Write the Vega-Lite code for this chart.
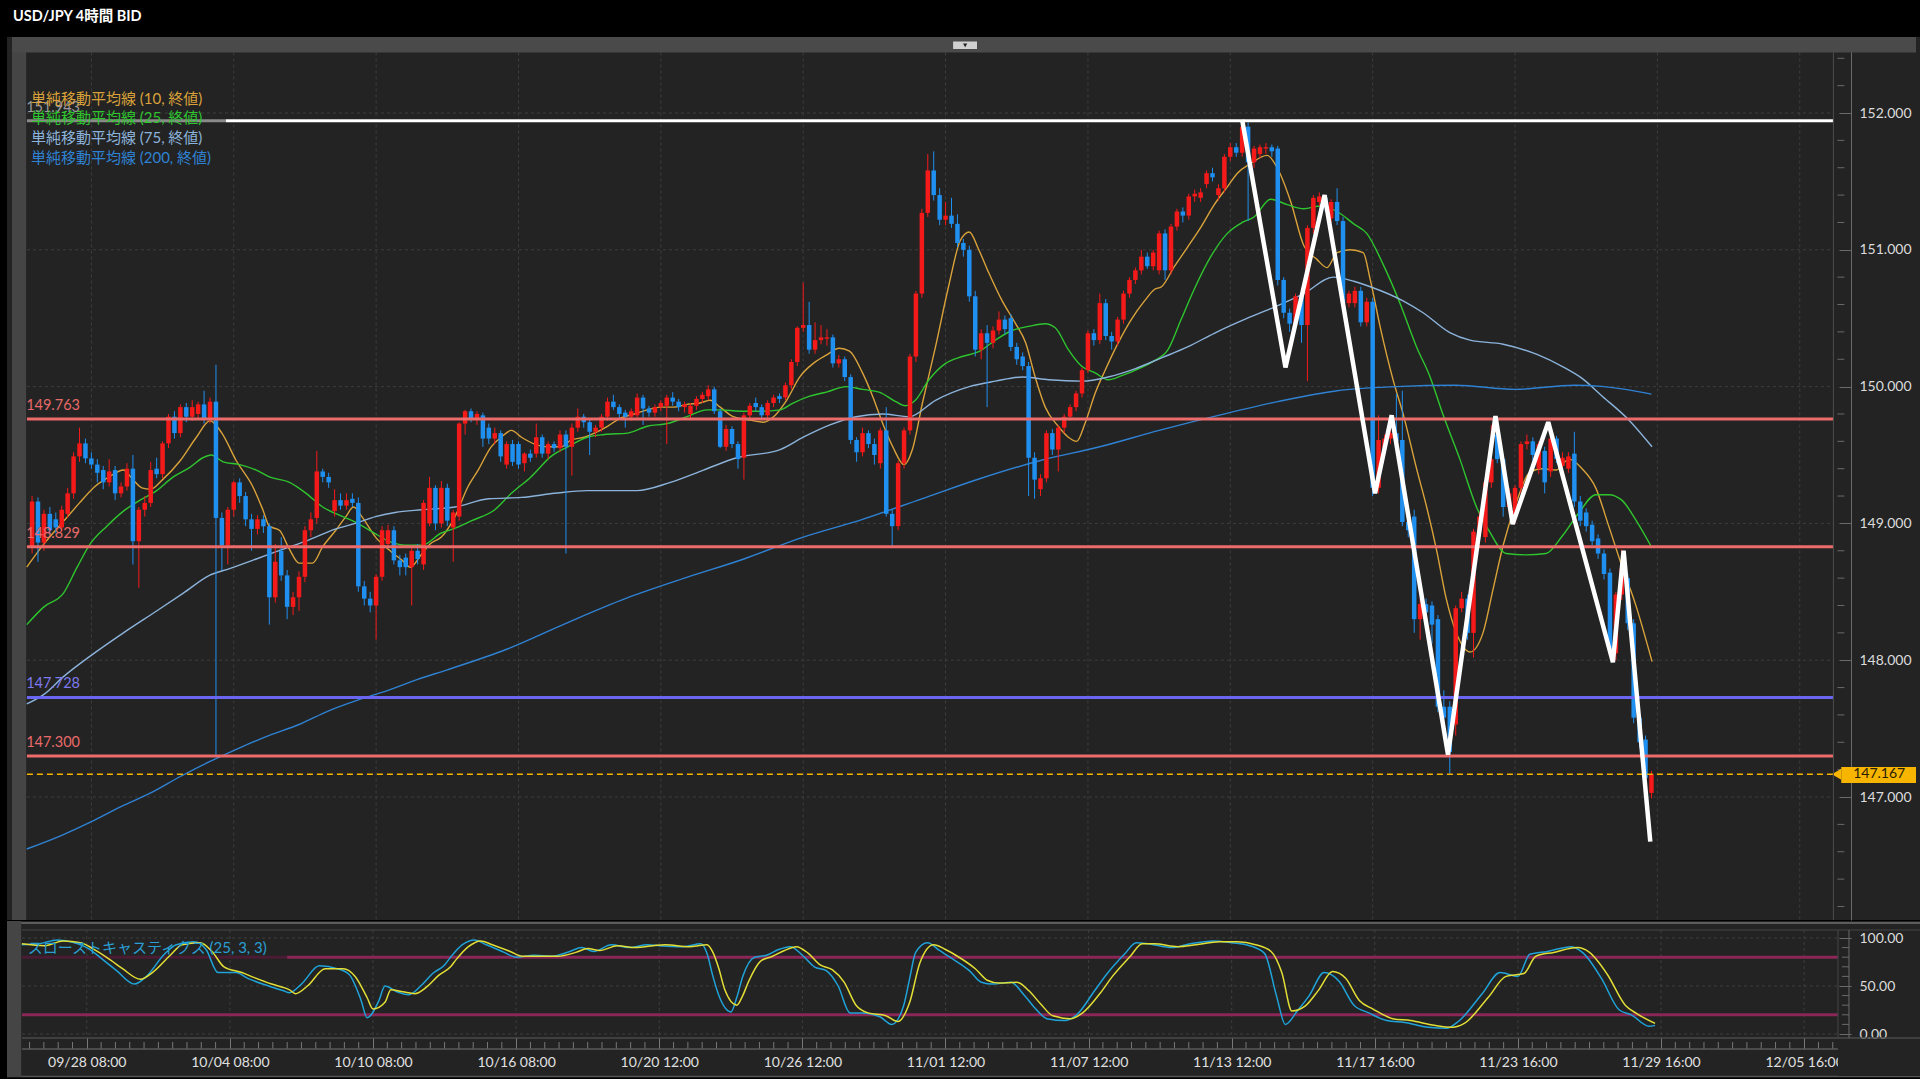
{
"$schema":"https://vega.github.io/schema/vega-lite/v6.json",
"background":"#000000",
"autosize":{"type":"pad"},
"padding":{"left":6,"top":9,"right":0,"bottom":1},
"title":{"text":"USD/JPY 4時間 BID","anchor":"start","frame":"bounds","offset":12.5,"dx":7,"color":"#ffffff","font":"Lato, Noto Sans CJK JP","fontSize":14.5,"fontWeight":"bold"},
"spacing":0,
"config":{"view":{"stroke":null},"text":{"font":"Lato, Noto Sans CJK JP"}},
"datasets":{
"one":[{"k":1}],
"xg":[{"i":0},{"i":24},{"i":48},{"i":72},{"i":96},{"i":120},{"i":144},{"i":168},{"i":192},{"i":216},{"i":240},{"i":264},{"i":288}],
"yg":[{"v":147},{"v":148},{"v":149},{"v":150},{"v":151},{"v":152}],
"ymin":[{"v":146.2},{"v":146.4},{"v":146.6},{"v":146.8},{"v":147.2},{"v":147.4},{"v":147.6},{"v":147.8},{"v":148.2},{"v":148.4},{"v":148.6},{"v":148.8},{"v":149.2},{"v":149.4},{"v":149.6},{"v":149.8},{"v":150.2},{"v":150.4},{"v":150.6},{"v":150.8},{"v":151.2},{"v":151.4},{"v":151.6},{"v":151.8},{"v":152.2},{"v":152.4}],
"sg":[{"v":0},{"v":50},{"v":100}],
"smin":[{"v":10},{"v":20},{"v":30},{"v":40},{"v":60},{"v":70},{"v":80},{"v":90}],
"xmin":[{"i":-9.6},{"i":-7.2},{"i":-4.8},{"i":-2.4},{"i":2.4},{"i":4.8},{"i":7.2},{"i":9.6},{"i":12},{"i":14.4},{"i":16.8},{"i":19.2},{"i":21.6},{"i":26.4},{"i":28.8},{"i":31.2},{"i":33.6},{"i":36},{"i":38.4},{"i":40.8},{"i":43.2},{"i":45.6},{"i":50.4},{"i":52.8},{"i":55.2},{"i":57.6},{"i":60},{"i":62.4},{"i":64.8},{"i":67.2},{"i":69.6},{"i":74.4},{"i":76.8},{"i":79.2},{"i":81.6},{"i":84},{"i":86.4},{"i":88.8},{"i":91.2},{"i":93.6},{"i":98.4},{"i":100.8},{"i":103.2},{"i":105.6},{"i":108},{"i":110.4},{"i":112.8},{"i":115.2},{"i":117.6},{"i":122.4},{"i":124.8},{"i":127.2},{"i":129.6},{"i":132},{"i":134.4},{"i":136.8},{"i":139.2},{"i":141.6},{"i":146.4},{"i":148.8},{"i":151.2},{"i":153.6},{"i":156},{"i":158.4},{"i":160.8},{"i":163.2},{"i":165.6},{"i":170.4},{"i":172.8},{"i":175.2},{"i":177.6},{"i":180},{"i":182.4},{"i":184.8},{"i":187.2},{"i":189.6},{"i":194.4},{"i":196.8},{"i":199.2},{"i":201.6},{"i":204},{"i":206.4},{"i":208.8},{"i":211.2},{"i":213.6},{"i":218.4},{"i":220.8},{"i":223.2},{"i":225.6},{"i":228},{"i":230.4},{"i":232.8},{"i":235.2},{"i":237.6},{"i":242.4},{"i":244.8},{"i":247.2},{"i":249.6},{"i":252},{"i":254.4},{"i":256.8},{"i":259.2},{"i":261.6},{"i":266.4},{"i":268.8},{"i":271.2},{"i":273.6},{"i":276},{"i":278.4},{"i":280.8},{"i":283.2},{"i":285.6},{"i":290.4},{"i":292.8}],
"levels":[{"v":151.944,"label":"151.943"},{"v":149.763,"label":"149.763"},{"v":148.829,"label":"148.829"},{"v":147.728,"label":"147.728"},{"v":147.3,"label":"147.300"}],
"last":[{"p":147.167,"label":"147.167"}],
"legend":[{"s":"10","label":"単純移動平均線 (10, 終値)"},{"s":"25","label":"単純移動平均線 (25, 終値)"},{"s":"75","label":"単純移動平均線 (75, 終値)"},{"s":"200","label":"単純移動平均線 (200, 終値)"}],
"zig":[{"i":194.0,"p":151.95},{"i":201.3,"p":150.14},{"i":207.9,"p":151.40},{"i":216.4,"p":149.22},{"i":219.2,"p":149.79},{"i":228.7,"p":147.31},{"i":236.7,"p":149.785},{"i":239.6,"p":148.995},{"i":245.6,"p":149.74},{"i":256.5,"p":147.985},{"i":258.3,"p":148.80},{"i":262.8,"p":146.674}],
"candles":[
{"i":-10,"o":148.83,"h":149.2,"l":148.78,"c":149.16},{"i":-9,"o":149.16,"h":149.19,"l":148.72,"c":148.86},{"i":-8,"o":148.86,"h":149.1,"l":148.8,"c":149.07},{"i":-7,"o":149.07,"h":149.12,"l":148.92,"c":148.95},{"i":-6,"o":149.03,"h":149.08,"l":148.93,"c":148.97},{"i":-5,"o":148.97,"h":149.13,"l":148.94,"c":149.1},{"i":-4,"o":149.07,"h":149.26,"l":149.04,"c":149.22},{"i":-3,"o":149.22,"h":149.52,"l":149.18,"c":149.49},{"i":-2,"o":149.49,"h":149.7,"l":149.45,"c":149.585},{"i":-1,"o":149.585,"h":149.62,"l":149.44,"c":149.475},
{"i":0,"o":149.475,"h":149.52,"l":149.4,"c":149.43},{"i":1,"o":149.43,"h":149.47,"l":149.3,"c":149.37},{"i":2,"o":149.39,"h":149.42,"l":149.25,"c":149.3},{"i":3,"o":149.3,"h":149.47,"l":149.27,"c":149.38},{"i":4,"o":149.39,"h":149.42,"l":149.17,"c":149.22},{"i":5,"o":149.22,"h":149.3,"l":149.19,"c":149.27},{"i":6,"o":149.27,"h":149.44,"l":149.24,"c":149.4},{"i":7,"o":149.4,"h":149.5,"l":148.7,"c":148.87},{"i":8,"o":148.87,"h":149.12,"l":148.53,"c":149.1},{"i":9,"o":149.1,"h":149.2,"l":149.05,"c":149.15},
{"i":10,"o":149.15,"h":149.45,"l":149.12,"c":149.39},{"i":11,"o":149.4,"h":149.48,"l":149.33,"c":149.36},{"i":12,"o":149.36,"h":149.6,"l":149.33,"c":149.585},{"i":13,"o":149.585,"h":149.8,"l":149.55,"c":149.78},{"i":14,"o":149.78,"h":149.82,"l":149.62,"c":149.66},{"i":15,"o":149.66,"h":149.87,"l":149.63,"c":149.85},{"i":16,"o":149.85,"h":149.88,"l":149.74,"c":149.78},{"i":17,"o":149.78,"h":149.9,"l":149.75,"c":149.85},{"i":18,"o":149.8,"h":149.89,"l":149.77,"c":149.87},{"i":19,"o":149.87,"h":149.97,"l":149.73,"c":149.76},
{"i":20,"o":149.76,"h":149.92,"l":149.73,"c":149.89},{"i":21,"o":149.89,"h":150.16,"l":147.3,"c":149.04},{"i":22,"o":149.04,"h":149.08,"l":148.66,"c":148.84},{"i":23,"o":148.84,"h":149.12,"l":148.7,"c":149.1},{"i":24,"o":149.1,"h":149.31,"l":149.05,"c":149.3},{"i":25,"o":149.3,"h":149.33,"l":149.15,"c":149.2},{"i":26,"o":149.2,"h":149.23,"l":148.98,"c":149.03},{"i":27,"o":149.03,"h":149.07,"l":148.8,"c":148.96},{"i":28,"o":148.96,"h":149.06,"l":148.92,"c":149.03},{"i":29,"o":149.03,"h":149.06,"l":148.93,"c":148.98},
{"i":30,"o":148.98,"h":149.0,"l":148.26,"c":148.46},{"i":31,"o":148.46,"h":148.85,"l":148.42,"c":148.72},{"i":32,"o":148.8,"h":148.9,"l":148.58,"c":148.62},{"i":33,"o":148.62,"h":148.66,"l":148.3,"c":148.39},{"i":34,"o":148.39,"h":148.5,"l":148.33,"c":148.46},{"i":35,"o":148.46,"h":148.65,"l":148.36,"c":148.61},{"i":36,"o":148.61,"h":148.98,"l":148.57,"c":148.95},{"i":37,"o":148.95,"h":149.08,"l":148.9,"c":149.03},{"i":38,"o":149.04,"h":149.53,"l":149.0,"c":149.38},{"i":39,"o":149.38,"h":149.4,"l":149.3,"c":149.34},
{"i":40,"o":149.34,"h":149.37,"l":149.26,"c":149.3},{"i":41,"o":149.09,"h":149.25,"l":149.05,"c":149.17},{"i":42,"o":149.17,"h":149.22,"l":149.1,"c":149.13},{"i":43,"o":149.13,"h":149.22,"l":149.1,"c":149.17},{"i":44,"o":149.18,"h":149.22,"l":149.12,"c":149.15},{"i":45,"o":149.15,"h":149.19,"l":148.5,"c":148.54},{"i":46,"o":148.54,"h":148.58,"l":148.4,"c":148.45},{"i":47,"o":148.45,"h":148.5,"l":148.35,"c":148.4},{"i":48,"o":148.4,"h":148.63,"l":148.15,"c":148.61},{"i":49,"o":148.61,"h":148.98,"l":148.58,"c":148.95},
{"i":50,"o":148.85,"h":148.99,"l":148.82,"c":148.95},{"i":51,"o":148.95,"h":148.98,"l":148.7,"c":148.73},{"i":52,"o":148.73,"h":148.77,"l":148.62,"c":148.68},{"i":53,"o":148.75,"h":148.78,"l":148.62,"c":148.68},{"i":54,"o":148.68,"h":148.84,"l":148.4,"c":148.8},{"i":55,"o":148.8,"h":148.85,"l":148.7,"c":148.74},{"i":56,"o":148.7,"h":149.17,"l":148.66,"c":149.15},{"i":57,"o":149.0,"h":149.34,"l":148.98,"c":149.26},{"i":58,"o":149.26,"h":149.28,"l":148.95,"c":149.0},{"i":59,"o":149.0,"h":149.31,"l":148.97,"c":149.26},
{"i":60,"o":149.26,"h":149.29,"l":148.98,"c":149.02},{"i":61,"o":148.97,"h":149.1,"l":148.72,"c":149.08},{"i":62,"o":149.05,"h":149.74,"l":149.02,"c":149.73},{"i":63,"o":149.73,"h":149.83,"l":149.65,"c":149.82},{"i":64,"o":149.82,"h":149.84,"l":149.74,"c":149.77},{"i":65,"o":149.77,"h":149.82,"l":149.72,"c":149.8},{"i":66,"o":149.79,"h":149.81,"l":149.56,"c":149.62},{"i":67,"o":149.7,"h":149.73,"l":149.58,"c":149.62},{"i":68,"o":149.62,"h":149.7,"l":149.58,"c":149.66},{"i":69,"o":149.66,"h":149.68,"l":149.45,"c":149.49},
{"i":70,"o":149.43,"h":149.6,"l":149.4,"c":149.58},{"i":71,"o":149.58,"h":149.61,"l":149.42,"c":149.45},{"i":72,"o":149.58,"h":149.6,"l":149.4,"c":149.43},{"i":73,"o":149.44,"h":149.52,"l":149.38,"c":149.51},{"i":74,"o":149.51,"h":149.54,"l":149.45,"c":149.48},{"i":75,"o":149.51,"h":149.73,"l":149.48,"c":149.63},{"i":76,"o":149.63,"h":149.65,"l":149.48,"c":149.51},{"i":77,"o":149.51,"h":149.6,"l":149.47,"c":149.58},{"i":78,"o":149.58,"h":149.6,"l":149.52,"c":149.55},{"i":79,"o":149.55,"h":149.68,"l":149.52,"c":149.65},
{"i":80,"o":149.65,"h":149.68,"l":148.78,"c":149.56},{"i":81,"o":149.56,"h":149.73,"l":149.35,"c":149.7},{"i":82,"o":149.7,"h":149.84,"l":149.67,"c":149.78},{"i":83,"o":149.78,"h":149.8,"l":149.7,"c":149.74},{"i":84,"o":149.74,"h":149.76,"l":149.5,"c":149.67},{"i":85,"o":149.67,"h":149.72,"l":149.63,"c":149.7},{"i":86,"o":149.7,"h":149.8,"l":149.67,"c":149.78},{"i":87,"o":149.78,"h":149.92,"l":149.75,"c":149.89},{"i":88,"o":149.89,"h":149.94,"l":149.83,"c":149.85},{"i":89,"o":149.85,"h":149.87,"l":149.77,"c":149.8},
{"i":90,"o":149.81,"h":149.83,"l":149.7,"c":149.78},{"i":91,"o":149.78,"h":149.84,"l":149.75,"c":149.82},{"i":92,"o":149.79,"h":149.95,"l":149.76,"c":149.92},{"i":93,"o":149.92,"h":149.94,"l":149.72,"c":149.84},{"i":94,"o":149.84,"h":149.86,"l":149.78,"c":149.81},{"i":95,"o":149.81,"h":149.87,"l":149.78,"c":149.85},{"i":96,"o":149.85,"h":149.9,"l":149.82,"c":149.88},{"i":97,"o":149.86,"h":149.94,"l":149.58,"c":149.92},{"i":98,"o":149.92,"h":149.96,"l":149.86,"c":149.89},{"i":99,"o":149.89,"h":149.91,"l":149.82,"c":149.85},
{"i":100,"o":149.85,"h":149.89,"l":149.81,"c":149.87},{"i":101,"o":149.8,"h":149.88,"l":149.77,"c":149.86},{"i":102,"o":149.86,"h":149.93,"l":149.83,"c":149.91},{"i":103,"o":149.91,"h":149.96,"l":149.88,"c":149.94},{"i":104,"o":149.93,"h":150.01,"l":149.9,"c":149.98},{"i":105,"o":149.98,"h":150.0,"l":149.8,"c":149.82},{"i":106,"o":149.82,"h":149.84,"l":149.55,"c":149.56},{"i":107,"o":149.56,"h":149.72,"l":149.53,"c":149.69},{"i":108,"o":149.69,"h":149.71,"l":149.55,"c":149.58},{"i":109,"o":149.58,"h":149.6,"l":149.4,"c":149.47},
{"i":110,"o":149.48,"h":149.81,"l":149.32,"c":149.79},{"i":111,"o":149.79,"h":149.88,"l":149.76,"c":149.86},{"i":112,"o":149.88,"h":149.92,"l":149.82,"c":149.85},{"i":113,"o":149.85,"h":149.87,"l":149.76,"c":149.79},{"i":114,"o":149.79,"h":149.9,"l":149.77,"c":149.88},{"i":115,"o":149.88,"h":149.94,"l":149.85,"c":149.92},{"i":116,"o":149.93,"h":149.95,"l":149.88,"c":149.91},{"i":117,"o":149.92,"h":150.03,"l":149.9,"c":150.01},{"i":118,"o":150.01,"h":150.2,"l":149.98,"c":150.18},{"i":119,"o":150.18,"h":150.44,"l":150.15,"c":150.43},
{"i":120,"o":150.43,"h":150.76,"l":150.4,"c":150.45},{"i":121,"o":150.45,"h":150.62,"l":150.24,"c":150.27},{"i":122,"o":150.27,"h":150.47,"l":150.24,"c":150.34},{"i":123,"o":150.34,"h":150.45,"l":150.31,"c":150.36},{"i":124,"o":150.35,"h":150.42,"l":150.3,"c":150.36},{"i":125,"o":150.36,"h":150.38,"l":150.14,"c":150.17},{"i":126,"o":150.17,"h":150.23,"l":150.14,"c":150.2},{"i":127,"o":150.2,"h":150.22,"l":150.04,"c":150.07},{"i":128,"o":150.07,"h":150.09,"l":149.58,"c":149.61},{"i":129,"o":149.61,"h":149.63,"l":149.45,"c":149.52},
{"i":130,"o":149.52,"h":149.7,"l":149.49,"c":149.66},{"i":131,"o":149.66,"h":149.68,"l":149.55,"c":149.58},{"i":132,"o":149.58,"h":149.62,"l":149.43,"c":149.5},{"i":133,"o":149.44,"h":149.7,"l":149.4,"c":149.68},{"i":134,"o":149.68,"h":149.85,"l":149.05,"c":149.07},{"i":135,"o":149.07,"h":149.1,"l":148.83,"c":148.98},{"i":136,"o":148.98,"h":149.46,"l":148.95,"c":149.44},{"i":137,"o":149.44,"h":149.7,"l":149.4,"c":149.68},{"i":138,"o":149.68,"h":150.24,"l":149.65,"c":150.22},{"i":139,"o":150.22,"h":150.7,"l":150.18,"c":150.68},
{"i":140,"o":150.68,"h":151.3,"l":150.65,"c":151.27},{"i":141,"o":151.27,"h":151.7,"l":151.24,"c":151.58},{"i":142,"o":151.58,"h":151.72,"l":151.36,"c":151.4},{"i":143,"o":151.4,"h":151.45,"l":151.18,"c":151.22},{"i":144,"o":151.22,"h":151.35,"l":151.18,"c":151.25},{"i":145,"o":151.25,"h":151.38,"l":151.16,"c":151.19},{"i":146,"o":151.19,"h":151.26,"l":151.02,"c":151.05},{"i":147,"o":151.05,"h":151.08,"l":150.95,"c":151.0},{"i":148,"o":151.0,"h":151.03,"l":150.62,"c":150.66},{"i":149,"o":150.66,"h":150.7,"l":150.22,"c":150.27},
{"i":150,"o":150.27,"h":150.42,"l":150.2,"c":150.39},{"i":151,"o":150.39,"h":150.45,"l":149.85,"c":150.32},{"i":152,"o":150.32,"h":150.44,"l":150.28,"c":150.41},{"i":153,"o":150.41,"h":150.55,"l":150.38,"c":150.49},{"i":154,"o":150.49,"h":150.52,"l":150.38,"c":150.42},{"i":155,"o":150.5,"h":150.53,"l":150.26,"c":150.29},{"i":156,"o":150.29,"h":150.32,"l":150.16,"c":150.2},{"i":157,"o":150.22,"h":150.25,"l":150.12,"c":150.15},{"i":158,"o":150.15,"h":150.18,"l":149.2,"c":149.48},{"i":159,"o":149.48,"h":149.52,"l":149.18,"c":149.32},
{"i":160,"o":149.25,"h":149.36,"l":149.2,"c":149.33},{"i":161,"o":149.33,"h":149.68,"l":149.3,"c":149.66},{"i":162,"o":149.66,"h":149.69,"l":149.5,"c":149.54},{"i":163,"o":149.54,"h":149.72,"l":149.38,"c":149.7},{"i":164,"o":149.7,"h":149.8,"l":149.66,"c":149.78},{"i":165,"o":149.78,"h":149.87,"l":149.75,"c":149.85},{"i":166,"o":149.85,"h":149.97,"l":149.82,"c":149.95},{"i":167,"o":149.95,"h":150.14,"l":149.92,"c":150.12},{"i":168,"o":150.12,"h":150.41,"l":150.1,"c":150.39},{"i":169,"o":150.39,"h":150.42,"l":150.3,"c":150.34},
{"i":170,"o":150.34,"h":150.68,"l":150.31,"c":150.61},{"i":171,"o":150.61,"h":150.64,"l":150.34,"c":150.37},{"i":172,"o":150.37,"h":150.4,"l":150.27,"c":150.33},{"i":173,"o":150.33,"h":150.51,"l":150.3,"c":150.49},{"i":174,"o":150.49,"h":150.7,"l":150.46,"c":150.68},{"i":175,"o":150.68,"h":150.8,"l":150.65,"c":150.78},{"i":176,"o":150.78,"h":150.87,"l":150.75,"c":150.85},{"i":177,"o":150.85,"h":151.0,"l":150.82,"c":150.95},{"i":178,"o":150.95,"h":150.98,"l":150.86,"c":150.88},{"i":179,"o":150.88,"h":151.0,"l":150.85,"c":150.98},
{"i":180,"o":150.85,"h":151.14,"l":150.82,"c":151.12},{"i":181,"o":151.12,"h":151.15,"l":150.78,"c":150.85},{"i":182,"o":150.85,"h":151.19,"l":150.82,"c":151.17},{"i":183,"o":151.17,"h":151.3,"l":151.14,"c":151.28},{"i":184,"o":151.28,"h":151.31,"l":151.2,"c":151.25},{"i":185,"o":151.25,"h":151.41,"l":151.22,"c":151.39},{"i":186,"o":151.39,"h":151.44,"l":151.35,"c":151.41},{"i":187,"o":151.38,"h":151.45,"l":151.35,"c":151.42},{"i":188,"o":151.48,"h":151.58,"l":151.45,"c":151.56},{"i":189,"o":151.56,"h":151.6,"l":151.5,"c":151.53},
{"i":190,"o":151.4,"h":151.48,"l":151.36,"c":151.45},{"i":191,"o":151.45,"h":151.7,"l":151.42,"c":151.68},{"i":192,"o":151.68,"h":151.78,"l":151.65,"c":151.75},{"i":193,"o":151.75,"h":151.78,"l":151.68,"c":151.71},{"i":194,"o":151.71,"h":151.94,"l":151.68,"c":151.9},{"i":195,"o":151.9,"h":151.93,"l":151.21,"c":151.64},{"i":196,"o":151.64,"h":151.76,"l":151.6,"c":151.74},{"i":197,"o":151.7,"h":151.77,"l":151.67,"c":151.75},{"i":198,"o":151.74,"h":151.78,"l":151.7,"c":151.75},{"i":199,"o":151.75,"h":151.77,"l":151.68,"c":151.72},
{"i":200,"o":151.74,"h":151.76,"l":150.74,"c":150.78},{"i":201,"o":150.78,"h":150.8,"l":150.5,"c":150.54},{"i":202,"o":150.54,"h":150.57,"l":150.4,"c":150.46},{"i":203,"o":150.46,"h":150.68,"l":150.43,"c":150.66},{"i":204,"o":150.66,"h":150.7,"l":150.32,"c":150.45},{"i":205,"o":150.45,"h":151.18,"l":150.04,"c":151.16},{"i":206,"o":151.16,"h":151.4,"l":151.12,"c":151.38},{"i":207,"o":151.35,"h":151.42,"l":151.32,"c":151.39},{"i":208,"o":151.38,"h":151.4,"l":151.28,"c":151.31},{"i":209,"o":151.23,"h":151.37,"l":151.2,"c":151.35},
{"i":210,"o":151.35,"h":151.45,"l":151.18,"c":151.21},{"i":211,"o":151.21,"h":151.24,"l":150.58,"c":150.61},{"i":212,"o":150.61,"h":150.7,"l":150.58,"c":150.68},{"i":213,"o":150.61,"h":150.73,"l":150.58,"c":150.7},{"i":214,"o":150.7,"h":150.73,"l":150.44,"c":150.47},{"i":215,"o":150.47,"h":150.65,"l":150.44,"c":150.62},{"i":216,"o":150.62,"h":150.65,"l":149.2,"c":149.26},{"i":217,"o":149.26,"h":149.79,"l":149.22,"c":149.61},{"i":218,"o":149.55,"h":149.65,"l":149.52,"c":149.62},{"i":219,"o":149.62,"h":149.75,"l":149.58,"c":149.66},
{"i":220,"o":149.66,"h":149.95,"l":149.55,"c":149.6},{"i":221,"o":149.61,"h":149.97,"l":148.98,"c":149.01},{"i":222,"o":149.01,"h":149.05,"l":148.9,"c":148.95},{"i":223,"o":149.05,"h":149.1,"l":148.2,"c":148.3},{"i":224,"o":148.3,"h":148.45,"l":148.15,"c":148.41},{"i":225,"o":148.41,"h":148.45,"l":148.3,"c":148.35},{"i":226,"o":148.4,"h":148.43,"l":148.12,"c":148.26},{"i":227,"o":148.3,"h":148.33,"l":147.62,"c":147.66},{"i":228,"o":147.66,"h":147.78,"l":147.55,"c":147.58},{"i":229,"o":147.66,"h":147.7,"l":147.17,"c":147.33},
{"i":230,"o":147.53,"h":148.4,"l":147.45,"c":148.38},{"i":231,"o":148.38,"h":148.5,"l":148.35,"c":148.45},{"i":232,"o":148.45,"h":148.48,"l":148.15,"c":148.2},{"i":233,"o":148.2,"h":148.96,"l":148.02,"c":148.94},{"i":234,"o":148.94,"h":149.08,"l":148.9,"c":149.05},{"i":235,"o":148.9,"h":149.32,"l":148.86,"c":149.3},{"i":236,"o":149.3,"h":149.72,"l":149.26,"c":149.47},{"i":237,"o":149.65,"h":149.7,"l":149.44,"c":149.47},{"i":238,"o":149.47,"h":149.5,"l":149.05,"c":149.12},{"i":239,"o":149.12,"h":149.26,"l":149.08,"c":149.22},
{"i":240,"o":149.05,"h":149.28,"l":149.0,"c":149.26},{"i":241,"o":149.26,"h":149.6,"l":149.22,"c":149.58},{"i":242,"o":149.58,"h":149.65,"l":149.54,"c":149.6},{"i":243,"o":149.6,"h":149.63,"l":149.46,"c":149.5},{"i":244,"o":149.4,"h":149.6,"l":149.36,"c":149.58},{"i":245,"o":149.53,"h":149.56,"l":149.22,"c":149.3},{"i":246,"o":149.38,"h":149.65,"l":149.34,"c":149.62},{"i":247,"o":149.62,"h":149.64,"l":149.44,"c":149.47},{"i":248,"o":149.42,"h":149.52,"l":149.39,"c":149.48},{"i":249,"o":149.4,"h":149.52,"l":149.37,"c":149.49},
{"i":250,"o":149.51,"h":149.67,"l":149.12,"c":149.16},{"i":251,"o":149.16,"h":149.2,"l":148.98,"c":149.02},{"i":252,"o":149.08,"h":149.11,"l":148.94,"c":148.98},{"i":253,"o":148.99,"h":149.02,"l":148.84,"c":148.87},{"i":254,"o":148.89,"h":148.92,"l":148.74,"c":148.78},{"i":255,"o":148.78,"h":148.81,"l":148.59,"c":148.63},{"i":256,"o":148.64,"h":148.67,"l":148.03,"c":148.08},{"i":257,"o":148.05,"h":148.5,"l":148.0,"c":148.48},{"i":258,"o":148.48,"h":148.81,"l":148.44,"c":148.67},{"i":259,"o":148.6,"h":148.63,"l":148.22,"c":148.27},
{"i":260,"o":148.27,"h":148.3,"l":147.54,"c":147.58},{"i":261,"o":147.58,"h":147.62,"l":147.36,"c":147.4},{"i":262,"o":147.42,"h":147.45,"l":147.1,"c":147.14},{"i":263,"o":147.03,"h":147.19,"l":146.99,"c":147.167}
],
"ma":[
{"s":"10","i":-10.9,"v":148.68},{"s":"10","i":-8,"v":148.85},{"s":"10","i":-4,"v":149.05},{"s":"10","i":-2,"v":149.15},{"s":"10","i":0.6,"v":149.27},{"s":"10","i":3,"v":149.34},{"s":"10","i":5.4,"v":149.39},{"s":"10","i":7,"v":149.32},{"s":"10","i":8.5,"v":149.26},{"s":"10","i":10,"v":149.25},{"s":"10","i":12,"v":149.32},{"s":"10","i":15,"v":149.46},{"s":"10","i":17.7,"v":149.63},{"s":"10","i":20,"v":149.75},{"s":"10","i":22,"v":149.66},{"s":"10","i":24.4,"v":149.46},{"s":"10","i":27.2,"v":149.27},{"s":"10","i":28.9,"v":149.1},{"s":"10","i":30,"v":148.98},{"s":"10","i":31.7,"v":148.95},{"s":"10","i":33.4,"v":148.81},{"s":"10","i":35,"v":148.71},{"s":"10","i":37.3,"v":148.71},{"s":"10","i":39,"v":148.83},{"s":"10","i":41.2,"v":148.95},{"s":"10","i":42.9,"v":149.05},{"s":"10","i":44.2,"v":149.12},{"s":"10","i":45.6,"v":149.05},{"s":"10","i":47.9,"v":148.9},{"s":"10","i":50.1,"v":148.81},{"s":"10","i":52.4,"v":148.73},{"s":"10","i":53.8,"v":148.68},{"s":"10","i":55.4,"v":148.76},{"s":"10","i":57.1,"v":148.85},{"s":"10","i":59,"v":148.9},{"s":"10","i":61.3,"v":149.05},{"s":"10","i":63.5,"v":149.27},{"s":"10","i":65.2,"v":149.39},{"s":"10","i":67.4,"v":149.56},{"s":"10","i":69.1,"v":149.63},{"s":"10","i":70.8,"v":149.68},{"s":"10","i":72.5,"v":149.63},{"s":"10","i":74.7,"v":149.58},{"s":"10","i":77,"v":149.56},{"s":"10","i":79.2,"v":149.56},{"s":"10","i":80.9,"v":149.61},{"s":"10","i":83.1,"v":149.63},{"s":"10","i":84.8,"v":149.66},{"s":"10","i":87,"v":149.71},{"s":"10","i":89.2,"v":149.77},{"s":"10","i":91.5,"v":149.8},{"s":"10","i":93.7,"v":149.83},{"s":"10","i":95.9,"v":149.85},{"s":"10","i":98.2,"v":149.85},{"s":"10","i":100.4,"v":149.87},{"s":"10","i":102.6,"v":149.88},{"s":"10","i":104.3,"v":149.9},{"s":"10","i":106,"v":149.85},{"s":"10","i":108.2,"v":149.78},{"s":"10","i":110.5,"v":149.76},{"s":"10","i":113.3,"v":149.74},{"s":"10","i":115,"v":149.78},{"s":"10","i":117.2,"v":149.9},{"s":"10","i":119.4,"v":150.07},{"s":"10","i":121.7,"v":150.17},{"s":"10","i":123.9,"v":150.23},{"s":"10","i":126.1,"v":150.28},{"s":"10","i":127.8,"v":150.26},{"s":"10","i":130,"v":150.1},{"s":"10","i":131.7,"v":149.93},{"s":"10","i":133.4,"v":149.73},{"s":"10","i":135.1,"v":149.56},{"s":"10","i":137,"v":149.43},{"s":"10","i":138.4,"v":149.54},{"s":"10","i":140.1,"v":149.88},{"s":"10","i":142.3,"v":150.29},{"s":"10","i":144.6,"v":150.75},{"s":"10","i":146.5,"v":151.07},{"s":"10","i":148,"v":151.13},{"s":"10","i":149.6,"v":151.0},{"s":"10","i":151.3,"v":150.83},{"s":"10","i":153.5,"v":150.63},{"s":"10","i":155.8,"v":150.46},{"s":"10","i":157.5,"v":150.32},{"s":"10","i":159.1,"v":150.07},{"s":"10","i":160.8,"v":149.85},{"s":"10","i":163,"v":149.71},{"s":"10","i":164.7,"v":149.63},{"s":"10","i":166.1,"v":149.6},{"s":"10","i":167.5,"v":149.73},{"s":"10","i":169.2,"v":149.95},{"s":"10","i":170.9,"v":150.12},{"s":"10","i":173.1,"v":150.32},{"s":"10","i":175.3,"v":150.49},{"s":"10","i":177.6,"v":150.63},{"s":"10","i":179.2,"v":150.71},{"s":"10","i":180.4,"v":150.73},{"s":"10","i":182.6,"v":150.88},{"s":"10","i":184.8,"v":151.02},{"s":"10","i":187.1,"v":151.17},{"s":"10","i":189.3,"v":151.33},{"s":"10","i":191.5,"v":151.46},{"s":"10","i":193.2,"v":151.56},{"s":"10","i":195.4,"v":151.63},{"s":"10","i":198.2,"v":151.69},{"s":"10","i":199.9,"v":151.6},{"s":"10","i":202.2,"v":151.35},{"s":"10","i":204.4,"v":151.03},{"s":"10","i":206.6,"v":150.93},{"s":"10","i":208.3,"v":150.87},{"s":"10","i":210,"v":150.98},{"s":"10","i":212.2,"v":151.0},{"s":"10","i":214.4,"v":150.98},{"s":"10","i":215.6,"v":150.78},{"s":"10","i":217.3,"v":150.43},{"s":"10","i":219.5,"v":150.04},{"s":"10","i":221.2,"v":149.79},{"s":"10","i":223.4,"v":149.4},{"s":"10","i":225.1,"v":149.12},{"s":"10","i":226.8,"v":148.8},{"s":"10","i":228.4,"v":148.45},{"s":"10","i":230.1,"v":148.2},{"s":"10","i":232.4,"v":148.06},{"s":"10","i":234.6,"v":148.2},{"s":"10","i":236.3,"v":148.52},{"s":"10","i":238,"v":148.84},{"s":"10","i":240.2,"v":149.15},{"s":"10","i":242.4,"v":149.37},{"s":"10","i":244.6,"v":149.4},{"s":"10","i":246.9,"v":149.39},{"s":"10","i":249.1,"v":149.47},{"s":"10","i":251.3,"v":149.4},{"s":"10","i":253.6,"v":149.26},{"s":"10","i":255.8,"v":148.98},{"s":"10","i":258,"v":148.69},{"s":"10","i":260.3,"v":148.41},{"s":"10","i":263.1,"v":147.99},
{"s":"25","i":-10.9,"v":148.26},{"s":"25","i":-8,"v":148.39},{"s":"25","i":-4.7,"v":148.49},{"s":"25","i":-2.4,"v":148.68},{"s":"25","i":-0.2,"v":148.85},{"s":"25","i":2.6,"v":148.98},{"s":"25","i":5.4,"v":149.09},{"s":"25","i":8.2,"v":149.17},{"s":"25","i":11,"v":149.24},{"s":"25","i":13.8,"v":149.34},{"s":"25","i":16.6,"v":149.41},{"s":"25","i":18.8,"v":149.48},{"s":"25","i":20.2,"v":149.5},{"s":"25","i":22.2,"v":149.45},{"s":"25","i":25,"v":149.43},{"s":"25","i":27.8,"v":149.39},{"s":"25","i":30,"v":149.34},{"s":"25","i":33.4,"v":149.3},{"s":"25","i":36.2,"v":149.22},{"s":"25","i":39,"v":149.12},{"s":"25","i":41.8,"v":149.06},{"s":"25","i":44.5,"v":149.01},{"s":"25","i":47.3,"v":148.94},{"s":"25","i":50.1,"v":148.87},{"s":"25","i":52.9,"v":148.84},{"s":"25","i":55.7,"v":148.84},{"s":"25","i":59,"v":148.93},{"s":"25","i":61,"v":148.96},{"s":"25","i":64.1,"v":149.02},{"s":"25","i":68,"v":149.1},{"s":"25","i":70.8,"v":149.22},{"s":"25","i":74.1,"v":149.34},{"s":"25","i":77.5,"v":149.49},{"s":"25","i":80.3,"v":149.56},{"s":"25","i":83.6,"v":149.63},{"s":"25","i":86.5,"v":149.65},{"s":"25","i":90.4,"v":149.66},{"s":"25","i":93.7,"v":149.71},{"s":"25","i":97.1,"v":149.73},{"s":"25","i":100.4,"v":149.78},{"s":"25","i":103.8,"v":149.83},{"s":"25","i":106,"v":149.83},{"s":"25","i":109.4,"v":149.82},{"s":"25","i":112.7,"v":149.82},{"s":"25","i":116.1,"v":149.83},{"s":"25","i":118.3,"v":149.88},{"s":"25","i":121.1,"v":149.93},{"s":"25","i":123.9,"v":149.96},{"s":"25","i":127.3,"v":150.0},{"s":"25","i":130,"v":149.98},{"s":"25","i":132.8,"v":149.96},{"s":"25","i":135.6,"v":149.89},{"s":"25","i":137.2,"v":149.86},{"s":"25","i":138.9,"v":149.9},{"s":"25","i":141.2,"v":150.05},{"s":"25","i":144,"v":150.17},{"s":"25","i":146.8,"v":150.22},{"s":"25","i":149.6,"v":150.255},{"s":"25","i":152.4,"v":150.34},{"s":"25","i":155.2,"v":150.41},{"s":"25","i":158,"v":150.44},{"s":"25","i":160.8,"v":150.46},{"s":"25","i":162.5,"v":150.43},{"s":"25","i":164.7,"v":150.27},{"s":"25","i":166.9,"v":150.15},{"s":"25","i":169.2,"v":150.1},{"s":"25","i":171.4,"v":150.05},{"s":"25","i":173.7,"v":150.08},{"s":"25","i":176.5,"v":150.13},{"s":"25","i":179.2,"v":150.19},{"s":"25","i":181.5,"v":150.27},{"s":"25","i":183.7,"v":150.49},{"s":"25","i":185.9,"v":150.71},{"s":"25","i":188.7,"v":150.95},{"s":"25","i":191.5,"v":151.12},{"s":"25","i":194,"v":151.2},{"s":"25","i":196,"v":151.24},{"s":"25","i":198.8,"v":151.37},{"s":"25","i":201.6,"v":151.33},{"s":"25","i":204.4,"v":151.3},{"s":"25","i":207.2,"v":151.32},{"s":"25","i":210,"v":151.28},{"s":"25","i":212.8,"v":151.19},{"s":"25","i":215,"v":151.12},{"s":"25","i":217.8,"v":150.89},{"s":"25","i":220.6,"v":150.61},{"s":"25","i":223.4,"v":150.29},{"s":"25","i":225.6,"v":150.08},{"s":"25","i":227.9,"v":149.79},{"s":"25","i":230.7,"v":149.47},{"s":"25","i":233.5,"v":149.12},{"s":"25","i":235.7,"v":148.94},{"s":"25","i":238.5,"v":148.78},{"s":"25","i":241.8,"v":148.77},{"s":"25","i":245.2,"v":148.78},{"s":"25","i":248,"v":148.91},{"s":"25","i":250.8,"v":149.08},{"s":"25","i":253.6,"v":149.21},{"s":"25","i":255.8,"v":149.21},{"s":"25","i":258,"v":149.17},{"s":"25","i":260.3,"v":149.03},{"s":"25","i":263.1,"v":148.82},
{"s":"75","i":-10.9,"v":147.68},{"s":"75","i":-8,"v":147.75},{"s":"75","i":-4.7,"v":147.88},{"s":"75","i":-0.2,"v":148.03},{"s":"75","i":5.4,"v":148.2},{"s":"75","i":11,"v":148.36},{"s":"75","i":15.5,"v":148.49},{"s":"75","i":19.9,"v":148.62},{"s":"75","i":23.3,"v":148.67},{"s":"75","i":27.8,"v":148.74},{"s":"75","i":32.2,"v":148.81},{"s":"75","i":36.7,"v":148.88},{"s":"75","i":41.2,"v":148.96},{"s":"75","i":44.5,"v":149.0},{"s":"75","i":47.9,"v":149.05},{"s":"75","i":51.2,"v":149.08},{"s":"75","i":55.7,"v":149.1},{"s":"75","i":61.3,"v":149.12},{"s":"75","i":67,"v":149.18},{"s":"75","i":72.5,"v":149.19},{"s":"75","i":78.1,"v":149.22},{"s":"75","i":83.6,"v":149.24},{"s":"75","i":92,"v":149.24},{"s":"75","i":97.6,"v":149.3},{"s":"75","i":103.2,"v":149.39},{"s":"75","i":108.8,"v":149.48},{"s":"75","i":116.1,"v":149.54},{"s":"75","i":120,"v":149.63},{"s":"75","i":124.5,"v":149.72},{"s":"75","i":128.9,"v":149.78},{"s":"75","i":133.4,"v":149.8},{"s":"75","i":137.9,"v":149.78},{"s":"75","i":142.3,"v":149.9},{"s":"75","i":148,"v":150.0},{"s":"75","i":152.4,"v":150.04},{"s":"75","i":156.9,"v":150.07},{"s":"75","i":161.4,"v":150.05},{"s":"75","i":167,"v":150.04},{"s":"75","i":171.4,"v":150.07},{"s":"75","i":175.9,"v":150.13},{"s":"75","i":180.4,"v":150.21},{"s":"75","i":184.8,"v":150.29},{"s":"75","i":189.3,"v":150.39},{"s":"75","i":194.9,"v":150.5},{"s":"75","i":198.8,"v":150.57},{"s":"75","i":204.4,"v":150.68},{"s":"75","i":209.4,"v":150.8},{"s":"75","i":212.8,"v":150.77},{"s":"75","i":215.6,"v":150.73},{"s":"75","i":221.2,"v":150.625},{"s":"75","i":224.5,"v":150.54},{"s":"75","i":229,"v":150.395},{"s":"75","i":232.4,"v":150.34},{"s":"75","i":238,"v":150.31},{"s":"75","i":243.7,"v":150.235},{"s":"75","i":248,"v":150.146},{"s":"75","i":251.3,"v":150.06},{"s":"75","i":254.7,"v":149.93},{"s":"75","i":259.1,"v":149.76},{"s":"75","i":263.1,"v":149.56},
{"s":"200","i":-10.9,"v":146.62},{"s":"200","i":-5,"v":146.72},{"s":"200","i":0,"v":146.82},{"s":"200","i":5,"v":146.93},{"s":"200","i":10,"v":147.03},{"s":"200","i":15,"v":147.15},{"s":"200","i":20,"v":147.26},{"s":"200","i":25,"v":147.36},{"s":"200","i":30,"v":147.45},{"s":"200","i":35,"v":147.53},{"s":"200","i":40,"v":147.63},{"s":"200","i":45,"v":147.71},{"s":"200","i":50,"v":147.78},{"s":"200","i":55,"v":147.86},{"s":"200","i":60,"v":147.93},{"s":"200","i":70,"v":148.08},{"s":"200","i":80,"v":148.27},{"s":"200","i":90,"v":148.45},{"s":"200","i":100,"v":148.6},{"s":"200","i":110,"v":148.74},{"s":"200","i":120,"v":148.9},{"s":"200","i":130,"v":149.03},{"s":"200","i":140,"v":149.18},{"s":"200","i":150,"v":149.33},{"s":"200","i":160,"v":149.46},{"s":"200","i":170,"v":149.56},{"s":"200","i":180,"v":149.68},{"s":"200","i":190,"v":149.79},{"s":"200","i":200,"v":149.89},{"s":"200","i":210,"v":149.97},{"s":"200","i":220,"v":150.0},{"s":"200","i":230,"v":150.01},{"s":"200","i":240,"v":149.98},{"s":"200","i":250,"v":150.01},{"s":"200","i":255,"v":150.0},{"s":"200","i":263,"v":149.945}
],
"stoch":[
{"s":"D","i":-10.9,"v":94},{"s":"D","i":-7,"v":92},{"s":"D","i":-4,"v":97},{"s":"D","i":-1,"v":95},{"s":"D","i":1,"v":89},{"s":"D","i":4,"v":77},{"s":"D","i":6,"v":68},{"s":"D","i":9,"v":57},{"s":"D","i":11,"v":64},{"s":"D","i":14,"v":82},{"s":"D","i":16,"v":93},{"s":"D","i":19,"v":95},{"s":"D","i":21,"v":86},{"s":"D","i":23,"v":70},{"s":"D","i":26,"v":64},{"s":"D","i":28,"v":59},{"s":"D","i":31,"v":52},{"s":"D","i":34,"v":46},{"s":"D","i":35,"v":42},{"s":"D","i":37,"v":50},{"s":"D","i":40,"v":68},{"s":"D","i":43,"v":68},{"s":"D","i":45,"v":60},{"s":"D","i":47,"v":38},{"s":"D","i":48,"v":26},{"s":"D","i":50,"v":33},{"s":"D","i":51,"v":46},{"s":"D","i":53,"v":44},{"s":"D","i":55,"v":42},{"s":"D","i":57,"v":49},{"s":"D","i":59,"v":61},{"s":"D","i":61,"v":70},{"s":"D","i":62,"v":78},{"s":"D","i":64,"v":91},{"s":"D","i":66,"v":97},{"s":"D","i":68,"v":93},{"s":"D","i":71,"v":86},{"s":"D","i":73,"v":81},{"s":"D","i":76,"v":81},{"s":"D","i":79,"v":81},{"s":"D","i":82,"v":85},{"s":"D","i":84,"v":89},{"s":"D","i":86,"v":87},{"s":"D","i":89,"v":92},{"s":"D","i":92,"v":90},{"s":"D","i":95,"v":92},{"s":"D","i":97,"v":93},{"s":"D","i":101,"v":91},{"s":"D","i":104,"v":93},{"s":"D","i":105,"v":85},{"s":"D","i":106,"v":68},{"s":"D","i":107,"v":46},{"s":"D","i":109,"v":30},{"s":"D","i":110,"v":40},{"s":"D","i":111,"v":55},{"s":"D","i":113,"v":76},{"s":"D","i":115,"v":81},{"s":"D","i":117,"v":87},{"s":"D","i":119,"v":91},{"s":"D","i":121,"v":84},{"s":"D","i":123,"v":72},{"s":"D","i":125,"v":67},{"s":"D","i":127,"v":54},{"s":"D","i":129,"v":30},{"s":"D","i":131,"v":22},{"s":"D","i":134,"v":19},{"s":"D","i":136,"v":13},{"s":"D","i":138,"v":33},{"s":"D","i":139.7,"v":74},{"s":"D","i":142,"v":93},{"s":"D","i":144,"v":88},{"s":"D","i":146,"v":81},{"s":"D","i":149,"v":68},{"s":"D","i":151,"v":56},{"s":"D","i":153,"v":53},{"s":"D","i":156,"v":54},{"s":"D","i":158,"v":45},{"s":"D","i":160,"v":31},{"s":"D","i":162,"v":19},{"s":"D","i":165,"v":16},{"s":"D","i":167,"v":22},{"s":"D","i":170,"v":43},{"s":"D","i":172,"v":60},{"s":"D","i":175,"v":81},{"s":"D","i":177,"v":94},{"s":"D","i":179,"v":94},{"s":"D","i":183,"v":91},{"s":"D","i":186,"v":93},{"s":"D","i":190,"v":96},{"s":"D","i":193,"v":96},{"s":"D","i":196,"v":93},{"s":"D","i":198.6,"v":86},{"s":"D","i":200.4,"v":64},{"s":"D","i":202.1,"v":24},{"s":"D","i":204.3,"v":29},{"s":"D","i":206.6,"v":46},{"s":"D","i":208.9,"v":65},{"s":"D","i":211.1,"v":58},{"s":"D","i":213.4,"v":35},{"s":"D","i":215.7,"v":26},{"s":"D","i":219,"v":16},{"s":"D","i":222,"v":14},{"s":"D","i":226,"v":9},{"s":"D","i":229,"v":7},{"s":"D","i":231,"v":11},{"s":"D","i":235,"v":38},{"s":"D","i":238,"v":60},{"s":"D","i":241,"v":63},{"s":"D","i":243,"v":81},{"s":"D","i":246,"v":85},{"s":"D","i":250,"v":90},{"s":"D","i":252,"v":85},{"s":"D","i":255,"v":62},{"s":"D","i":258,"v":30},{"s":"D","i":260,"v":21},{"s":"D","i":263,"v":11},
{"s":"K","i":-10.9,"v":93},{"s":"K","i":-8,"v":94},{"s":"K","i":-5,"v":98},{"s":"K","i":-2,"v":95},{"s":"K","i":0,"v":90},{"s":"K","i":3,"v":76},{"s":"K","i":5,"v":66},{"s":"K","i":8,"v":52},{"s":"K","i":10,"v":60},{"s":"K","i":13,"v":83},{"s":"K","i":15,"v":93},{"s":"K","i":18,"v":96},{"s":"K","i":20,"v":88},{"s":"K","i":22,"v":64},{"s":"K","i":25,"v":64},{"s":"K","i":27,"v":58},{"s":"K","i":30,"v":51},{"s":"K","i":33,"v":45},{"s":"K","i":34,"v":43},{"s":"K","i":36,"v":52},{"s":"K","i":39,"v":71},{"s":"K","i":42,"v":68},{"s":"K","i":44,"v":62},{"s":"K","i":46,"v":35},{"s":"K","i":47,"v":17},{"s":"K","i":49,"v":35},{"s":"K","i":50,"v":50},{"s":"K","i":52,"v":44},{"s":"K","i":54,"v":41},{"s":"K","i":56,"v":50},{"s":"K","i":58,"v":63},{"s":"K","i":60,"v":72},{"s":"K","i":61,"v":80},{"s":"K","i":63,"v":93},{"s":"K","i":65,"v":98},{"s":"K","i":67,"v":93},{"s":"K","i":70,"v":85},{"s":"K","i":72,"v":80},{"s":"K","i":75,"v":82},{"s":"K","i":78,"v":81},{"s":"K","i":81,"v":86},{"s":"K","i":83,"v":90},{"s":"K","i":85,"v":86},{"s":"K","i":88,"v":93},{"s":"K","i":91,"v":90},{"s":"K","i":94,"v":93},{"s":"K","i":96,"v":92},{"s":"K","i":100,"v":91},{"s":"K","i":103,"v":94},{"s":"K","i":104,"v":84},{"s":"K","i":105,"v":60},{"s":"K","i":106,"v":40},{"s":"K","i":108,"v":23},{"s":"K","i":109,"v":38},{"s":"K","i":110,"v":60},{"s":"K","i":112,"v":80},{"s":"K","i":114,"v":82},{"s":"K","i":116,"v":88},{"s":"K","i":118,"v":91},{"s":"K","i":120,"v":82},{"s":"K","i":122,"v":70},{"s":"K","i":124,"v":66},{"s":"K","i":126,"v":50},{"s":"K","i":128,"v":22},{"s":"K","i":130,"v":22},{"s":"K","i":133,"v":18},{"s":"K","i":135,"v":10},{"s":"K","i":137,"v":30},{"s":"K","i":138,"v":58},{"s":"K","i":139,"v":85},{"s":"K","i":141,"v":95},{"s":"K","i":143,"v":87},{"s":"K","i":145,"v":79},{"s":"K","i":148,"v":66},{"s":"K","i":150,"v":54},{"s":"K","i":152,"v":52},{"s":"K","i":155,"v":54},{"s":"K","i":157,"v":42},{"s":"K","i":159,"v":27},{"s":"K","i":161,"v":16},{"s":"K","i":164,"v":14},{"s":"K","i":166,"v":20},{"s":"K","i":169,"v":45},{"s":"K","i":171,"v":62},{"s":"K","i":174,"v":83},{"s":"K","i":176,"v":95},{"s":"K","i":178,"v":94},{"s":"K","i":182,"v":90},{"s":"K","i":185,"v":94},{"s":"K","i":189,"v":97},{"s":"K","i":192,"v":95},{"s":"K","i":195,"v":92},{"s":"K","i":197.5,"v":84},{"s":"K","i":199.5,"v":40},{"s":"K","i":201,"v":10},{"s":"K","i":203,"v":24},{"s":"K","i":205,"v":40},{"s":"K","i":207.5,"v":64},{"s":"K","i":210,"v":55},{"s":"K","i":212.5,"v":30},{"s":"K","i":215,"v":22},{"s":"K","i":218,"v":14},{"s":"K","i":221,"v":12},{"s":"K","i":225,"v":7},{"s":"K","i":228,"v":6},{"s":"K","i":230,"v":13},{"s":"K","i":234,"v":42},{"s":"K","i":237,"v":64},{"s":"K","i":240,"v":60},{"s":"K","i":242,"v":83},{"s":"K","i":245,"v":86},{"s":"K","i":249,"v":91},{"s":"K","i":251,"v":84},{"s":"K","i":254,"v":58},{"s":"K","i":257,"v":25},{"s":"K","i":259,"v":20},{"s":"K","i":262,"v":8},{"s":"K","i":263,"v":9}
]
},
"vconcat":[
{
"width":1914,"height":883,
"view":{"fill":"#232323","stroke":null},
"layer":[
{"data":{"name":"xg"},"mark":{"type":"rule","color":"#3e3e3e","strokeDash":[3,3],"strokeWidth":1},
 "encoding":{"x":{"field":"i","type":"quantitative","scale":{"domain":[-13.383,307.595],"nice":false,"zero":false},"axis":null},
 "y":{"datum":152.4423,"type":"quantitative","scale":{"domain":[146.101,152.5556],"nice":false,"zero":false},
   "axis":{"orient":"right","offset":-70,"title":null,"grid":false,"values":[147,148,149,150,151,152],"format":".3f",
   "tickSize":-12,"tickColor":"#6a6a6a","domainColor":"#6a6a6a","labelColor":"#dcdcdc","labelFont":"Lato","labelFontSize":14,"labelPadding":20,"labelOverlap":false,"labelFlush":false}},
 "y2":{"datum":146.101}}},
{"data":{"name":"yg"},"mark":{"type":"rule","color":"#3e3e3e","strokeDash":[3,3],"strokeWidth":1},
 "encoding":{"y":{"field":"v","type":"quantitative"},"x":{"datum":-10.867,"axis":null},"x2":{"datum":293.67}}},
{"data":{"name":"ymin"},"mark":{"type":"rule","color":"#6a6a6a","strokeWidth":1},
 "encoding":{"y":{"field":"v","type":"quantitative"},"x":{"datum":294.35,"axis":null},"x2":{"datum":295.52}}},
{"data":{"name":"ma"},"mark":{"type":"line","strokeWidth":1.4,"interpolate":"monotone"},
 "encoding":{"x":{"field":"i","type":"quantitative","axis":null},"y":{"field":"v","type":"quantitative"},
 "color":{"field":"s","type":"nominal","scale":{"domain":["10","25","75","200"],"range":["#d9a23a","#2ec52e","#8cb3db","#2f82d3"]},"legend":null}}},
{"data":{"name":"candles"},"mark":{"type":"rule","strokeWidth":1},
 "encoding":{"x":{"field":"i","type":"quantitative","axis":null},"y":{"field":"l","type":"quantitative"},"y2":{"field":"h"},
 "color":{"condition":{"test":"datum.c >= datum.o","value":"#f51a1a"},"value":"#1f8ff0"}}},
{"data":{"name":"candles"},"mark":{"type":"bar","width":4.5},
 "encoding":{"x":{"field":"i","type":"quantitative","axis":null},"y":{"field":"o","type":"quantitative"},"y2":{"field":"c"},
 "color":{"condition":{"test":"datum.c >= datum.o","value":"#f51a1a"},"value":"#1f8ff0"}}},
{"data":{"name":"levels"},"transform":[{"filter":"datum.v < 151"}],"mark":{"type":"rule","strokeWidth":3},
 "encoding":{"y":{"field":"v","type":"quantitative"},"x":{"datum":-10.867,"axis":null},"x2":{"datum":293.67},
 "color":{"condition":{"test":"datum.v == 147.728","value":"#6a66f2"},"value":"#ee6b6b"}}},
{"data":{"name":"levels"},"transform":[{"filter":"datum.v > 151"}],"mark":{"type":"rule","strokeWidth":3,"color":"#8a8a8a"},
 "encoding":{"y":{"field":"v","type":"quantitative"},"x":{"datum":-10.867,"axis":null},"x2":{"datum":22.67}}},
{"data":{"name":"levels"},"transform":[{"filter":"datum.v > 151"}],"mark":{"type":"rule","strokeWidth":3,"color":"#ffffff"},
 "encoding":{"y":{"field":"v","type":"quantitative"},"x":{"datum":22.67,"axis":null},"x2":{"datum":293.67}}},
{"data":{"name":"levels"},"mark":{"type":"text","align":"left","baseline":"middle","dy":-13,"fontSize":14.5,"font":"Lato"},
 "encoding":{"y":{"field":"v","type":"quantitative"},"x":{"datum":-11.0,"axis":null},"text":{"field":"label"},
 "color":{"condition":[{"test":"datum.v > 151","value":"#9a9a9a"},{"test":"datum.v == 147.728","value":"#7d7af0"}],"value":"#e86a6a"}}},
{"data":{"name":"last"},"mark":{"type":"rule","strokeWidth":1.5,"color":"#f3b200","strokeDash":[6,4]},
 "encoding":{"y":{"field":"p","type":"quantitative"},"x":{"datum":-10.867,"axis":null},"x2":{"datum":293.67}}},
{"data":{"name":"zig"},"mark":{"type":"line","color":"#ffffff","strokeWidth":4.5,"strokeJoin":"bevel"},
 "encoding":{"x":{"field":"i","type":"quantitative","axis":null},"y":{"field":"p","type":"quantitative"}}},
{"data":{"name":"last"},"mark":{"type":"rect","color":"#f7b500"},
 "encoding":{"x":{"datum":295.0,"axis":null},"x2":{"datum":307.595},"y":{"datum":147.219},"y2":{"datum":147.102}}},
{"data":{"name":"last"},"mark":{"type":"point","shape":"triangle-left","filled":true,"size":120,"color":"#f7b500","opacity":1},
 "encoding":{"x":{"datum":294.2,"axis":null},"y":{"field":"p","type":"quantitative"}}},
{"data":{"name":"last"},"mark":{"type":"text","align":"left","baseline":"middle","fontSize":14,"font":"Lato","color":"#2a2000"},
 "encoding":{"x":{"datum":297.0,"axis":null},"y":{"field":"p","type":"quantitative"},"text":{"field":"label"}}},
{"data":{"name":"legend"},"transform":[{"filter":"datum.s == '10'"}],"mark":{"type":"text","align":"left","baseline":"middle","fontSize":15},
 "encoding":{"x":{"datum":-10.2,"axis":null},"y":{"datum":152.106},"text":{"field":"label"},"color":{"field":"s","type":"nominal","legend":null}}},
{"data":{"name":"legend"},"transform":[{"filter":"datum.s == '25'"}],"mark":{"type":"text","align":"left","baseline":"middle","fontSize":15},
 "encoding":{"x":{"datum":-10.2,"axis":null},"y":{"datum":151.9635},"text":{"field":"label"},"color":{"field":"s","type":"nominal","legend":null}}},
{"data":{"name":"legend"},"transform":[{"filter":"datum.s == '75'"}],"mark":{"type":"text","align":"left","baseline":"middle","fontSize":15},
 "encoding":{"x":{"datum":-10.2,"axis":null},"y":{"datum":151.8173},"text":{"field":"label"},"color":{"field":"s","type":"nominal","legend":null}}},
{"data":{"name":"legend"},"transform":[{"filter":"datum.s == '200'"}],"mark":{"type":"text","align":"left","baseline":"middle","fontSize":15},
 "encoding":{"x":{"datum":-10.2,"axis":null},"y":{"datum":151.671},"text":{"field":"label"},"color":{"field":"s","type":"nominal","legend":null}}},
{"data":{"name":"one"},"mark":{"type":"rule","color":"#4e4e4e","strokeWidth":1},
 "encoding":{"x":{"datum":293.67,"axis":null},"y":{"datum":152.4423},"y2":{"datum":146.101}}},
{"data":{"name":"one"},"mark":{"type":"rect","color":"#454545"},
 "encoding":{"x":{"datum":-13.383,"axis":null},"x2":{"datum":-11.0},"y":{"datum":152.5556},"y2":{"datum":146.101}}},
{"data":{"name":"one"},"mark":{"type":"rect","color":"#4a4a4a"},
 "encoding":{"x":{"datum":-13.383,"axis":null},"x2":{"datum":307.595},"y":{"datum":152.5556},"y2":{"datum":152.4423}}},
{"data":{"name":"one"},"mark":{"type":"rect","color":"#d0d0d0"},
 "encoding":{"x":{"datum":145.27,"axis":null},"x2":{"datum":149.3},"y":{"datum":152.5227},"y2":{"datum":152.4678}}},
{"data":{"name":"one"},"mark":{"type":"point","shape":"triangle-down","filled":true,"size":18,"color":"#222222","opacity":1},
 "encoding":{"x":{"datum":147.3,"axis":null},"y":{"datum":152.495}}}
]
},
{
"width":1914,"height":156,
"view":{"fill":"#232323","stroke":null},
"layer":[
{"data":{"name":"xg"},"mark":{"type":"rule","color":"#3e3e3e","strokeDash":[3,3],"strokeWidth":1},
 "encoding":{"x":{"field":"i","type":"quantitative","scale":{"domain":[-13.383,307.595],"nice":false,"zero":false},
   "axis":{"orient":"bottom","offset":-28,"title":null,"grid":false,"domain":false,
   "values":[0,24,48,72,96,120,144,168,192,216,240,264,288],
   "labelExpr":"['09/28 08:00','10/04 08:00','10/10 08:00','10/16 08:00','10/20 12:00','10/26 12:00','11/01 12:00','11/07 12:00','11/13 12:00','11/17 16:00','11/23 16:00','11/29 16:00','12/05 16:00'][round(datum.value/24)]",
   "tickSize":-12,"tickColor":"#777777","labelColor":"#e0e0e0","labelFont":"Lato","labelFontSize":14,"labelPadding":18,"labelOverlap":false,"labelFlush":false}},
 "y":{"datum":108.33,"type":"quantitative","scale":{"domain":[-44.79,117.71],"nice":false,"zero":false},
   "axis":{"orient":"right","offset":-70,"title":null,"grid":false,"domain":false,"values":[0,50,100],"format":".2f",
   "tickSize":-12,"tickColor":"#6a6a6a","labelColor":"#dcdcdc","labelFont":"Lato","labelFontSize":14,"labelPadding":20,"labelOverlap":false,"labelFlush":false}},
 "y2":{"datum":-4.17}}},
{"data":{"name":"sg"},"mark":{"type":"rule","color":"#3e3e3e","strokeDash":[3,3],"strokeWidth":1},
 "encoding":{"y":{"field":"v","type":"quantitative"},"x":{"datum":-10.867},"x2":{"datum":293.67}}},
{"data":{"name":"smin"},"mark":{"type":"rule","color":"#6a6a6a","strokeWidth":1},
 "encoding":{"y":{"field":"v","type":"quantitative"},"x":{"datum":294.35},"x2":{"datum":295.52}}},
{"data":{"name":"xmin"},"mark":{"type":"rule","color":"#777777","strokeWidth":1},
 "encoding":{"x":{"field":"i","type":"quantitative"},"y":{"datum":-15.625},"y2":{"datum":-8.33}}},
{"data":{"name":"one"},"mark":{"type":"rule","color":"#4a1c33","strokeWidth":3},
 "encoding":{"y":{"datum":80},"x":{"datum":-10.867},"x2":{"datum":33.6}}},
{"data":{"name":"one"},"mark":{"type":"rule","color":"#8a2757","strokeWidth":3},
 "encoding":{"y":{"datum":80},"x":{"datum":33.6},"x2":{"datum":293.67}}},
{"data":{"name":"one"},"mark":{"type":"rule","color":"#8a2757","strokeWidth":3},
 "encoding":{"y":{"datum":20},"x":{"datum":-10.867},"x2":{"datum":293.67}}},
{"data":{"name":"stoch"},"transform":[{"filter":"datum.s == 'K'"}],"mark":{"type":"line","color":"#1fa3d8","strokeWidth":1.5,"interpolate":"monotone"},
 "encoding":{"x":{"field":"i","type":"quantitative"},"y":{"field":"v","type":"quantitative"}}},
{"data":{"name":"stoch"},"transform":[{"filter":"datum.s == 'D'"}],"mark":{"type":"line","color":"#e2de36","strokeWidth":1.5,"interpolate":"monotone"},
 "encoding":{"x":{"field":"i","type":"quantitative"},"y":{"field":"v","type":"quantitative"}}},
{"data":{"name":"one"},"mark":{"type":"text","align":"left","baseline":"middle","fontSize":15,"color":"#2a9fd3"},
 "encoding":{"x":{"datum":-9.9},"y":{"datum":89.1},"text":{"value":"スローストキャスティクス (25, 3, 3)"}}},
{"data":{"name":"one"},"mark":{"type":"rule","color":"#5c5c5c","strokeWidth":2},
 "encoding":{"y":{"datum":115.625},"x":{"datum":-13.383},"x2":{"datum":307.595}}},
{"data":{"name":"one"},"mark":{"type":"rule","color":"#474747","strokeWidth":1},
 "encoding":{"y":{"datum":108.33},"x":{"datum":-10.867},"x2":{"datum":307.595}}},
{"data":{"name":"one"},"mark":{"type":"rule","color":"#4a4a4a","strokeWidth":1.5},
 "encoding":{"y":{"datum":-4.17},"x":{"datum":-10.867},"x2":{"datum":307.595}}},
{"data":{"name":"one"},"mark":{"type":"rule","color":"#5a5a5a","strokeWidth":1.5},
 "encoding":{"y":{"datum":-15.625},"x":{"datum":-10.867},"x2":{"datum":293.67}}},
{"data":{"name":"one"},"mark":{"type":"rule","color":"#555555","strokeWidth":1.5},
 "encoding":{"y":{"datum":-44.3},"x":{"datum":-13.383},"x2":{"datum":307.595}}},
{"data":{"name":"one"},"mark":{"type":"rule","color":"#474747","strokeWidth":1},
 "encoding":{"x":{"datum":293.67},"y":{"datum":108.33},"y2":{"datum":-4.17}}},
{"data":{"name":"one"},"mark":{"type":"rule","color":"#6a6a6a","strokeWidth":1},
 "encoding":{"x":{"datum":295.52},"y":{"datum":108.33},"y2":{"datum":-4.17}}},
{"data":{"name":"one"},"mark":{"type":"rect","color":"#232323"},
 "encoding":{"x":{"datum":293.67},"x2":{"datum":307.595},"y":{"datum":-17.7},"y2":{"datum":-43.7}}},
{"data":{"name":"one"},"mark":{"type":"rect","color":"#454545"},
 "encoding":{"x":{"datum":-13.383},"x2":{"datum":-11.0},"y":{"datum":117.71},"y2":{"datum":-44.79}}}
]
}
]
}
